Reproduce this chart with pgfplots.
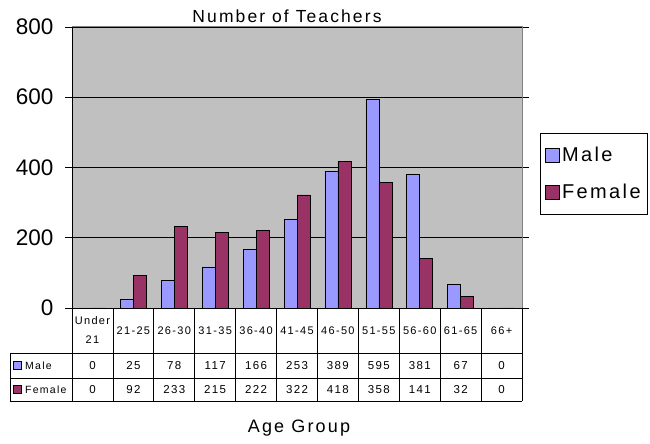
\documentclass[border=0pt]{standalone}
\usepackage{pgfplots}
\pgfplotsset{compat=1.18}
\usepackage{fontspec}
\setmainfont{Liberation Sans}
\newfontfamily\spfont[LetterSpace=12]{Liberation Sans}
\definecolor{male}{HTML}{9999FF}
\definecolor{female}{HTML}{993366}
\definecolor{plotbg}{HTML}{C0C0C0}
\begin{document}
\begin{tikzpicture}[x=1pt,y=1pt]
\path[use as bounding box] (0,0) rectangle (650,444);
\begin{axis}[
  at={(72pt,136pt)}, anchor=south west,
  scale only axis, width=450pt, height=281pt,
  xmin=-0.5, xmax=10.5, ymin=0, ymax=800,
  ytick={0,200,400,600,800},
  xtick=\empty,
  ymajorgrids, grid style={black, line width=0.6pt},
  axis line style={draw=none},
  axis background/.style={fill=plotbg},
  tick align=outside, major tick length=7pt,
  ytick style={black, line width=0.6pt},
  yticklabel style={font=\fontsize{22.5}{24}\selectfont, xshift=-8pt},
  /pgf/number format/assume math mode=true,
  ybar=0pt, bar width=13pt,
  clip=false,
  legend style={at={(1.04,0.623)}, anchor=north west, draw=black, line width=0.8pt,
    font=\spfont\fontsize{20}{22}\selectfont, inner xsep=5pt, inner ysep=12pt, row sep=17pt},
  legend cell align=left,
  legend image code/.code={\draw[#1, line width=0.6pt] (0pt,-7pt) rectangle (14pt,7pt);},
]
\addplot[fill=male, draw=black, line width=0.6pt] coordinates
  {(0,0) (1,25) (2,78) (3,117) (4,166) (5,253) (6,389) (7,595) (8,381) (9,67) (10,0)};
\addlegendentry{Male}
\addplot[fill=female, draw=black, line width=0.6pt] coordinates
  {(0,0) (1,92) (2,233) (3,215) (4,222) (5,322) (6,418) (7,358) (8,141) (9,32) (10,0)};
\addlegendentry{Female}
\draw[black!50, line width=1pt] (rel axis cs:0,1) -- (rel axis cs:1,1) -- (rel axis cs:1,0);
\draw[black, line width=1pt] (rel axis cs:0,0) -- (rel axis cs:0,1);
\end{axis}
% data table
\begin{scope}[line width=0.8pt]
\draw (72,136) -- (522,136);
\draw (10,91) -- (522,91);
\draw (10,66) -- (522,66);
\draw (10,43) -- (522,43);
\draw (10,91) -- (10,43);
\draw (72,136) -- (72,43);
\foreach \k in {1,...,11} { \draw ({72+450/11*\k},136) -- ({72+450/11*\k},43); }
\end{scope}
\foreach \lab [count=\i from 0] in {{Under\\21},21-25,26-30,31-35,36-40,41-45,46-50,51-55,56-60,61-65,66+} {
  \node[font=\spfont\fontsize{11}{19}\selectfont, align=center] at ({72+450/11*(\i+0.5)},113.5) {\lab};
}
\foreach \v [count=\i from 0] in {0,25,78,117,166,253,389,595,381,67,0} {
  \node[font=\spfont\fontsize{11.5}{12}\selectfont] at ({72+450/11*(\i+0.5)},78.5) {\v};
}
\foreach \v [count=\i from 0] in {0,92,233,215,222,322,418,358,141,32,0} {
  \node[font=\spfont\fontsize{11.5}{12}\selectfont] at ({72+450/11*(\i+0.5)},54.5) {\v};
}
\draw[fill=male, line width=0.6pt] (13,74.5) rectangle (21,82.5);
\draw[fill=female, line width=0.6pt] (13,50.5) rectangle (21,58.5);
\node[font=\spfont\fontsize{10.5}{12}\selectfont, anchor=west, inner sep=0pt] at (25,78) {Male};
\node[font=\spfont\fontsize{10.5}{12}\selectfont, anchor=west, inner sep=0pt] at (25,54) {Female};
% titles
\node[font=\spfont\fontsize{17.5}{20}\selectfont] at (287,428) {Number of Teachers};
\node[font=\spfont\fontsize{18}{20}\selectfont] at (299,16) {Age Group};
\end{tikzpicture}
\end{document}
